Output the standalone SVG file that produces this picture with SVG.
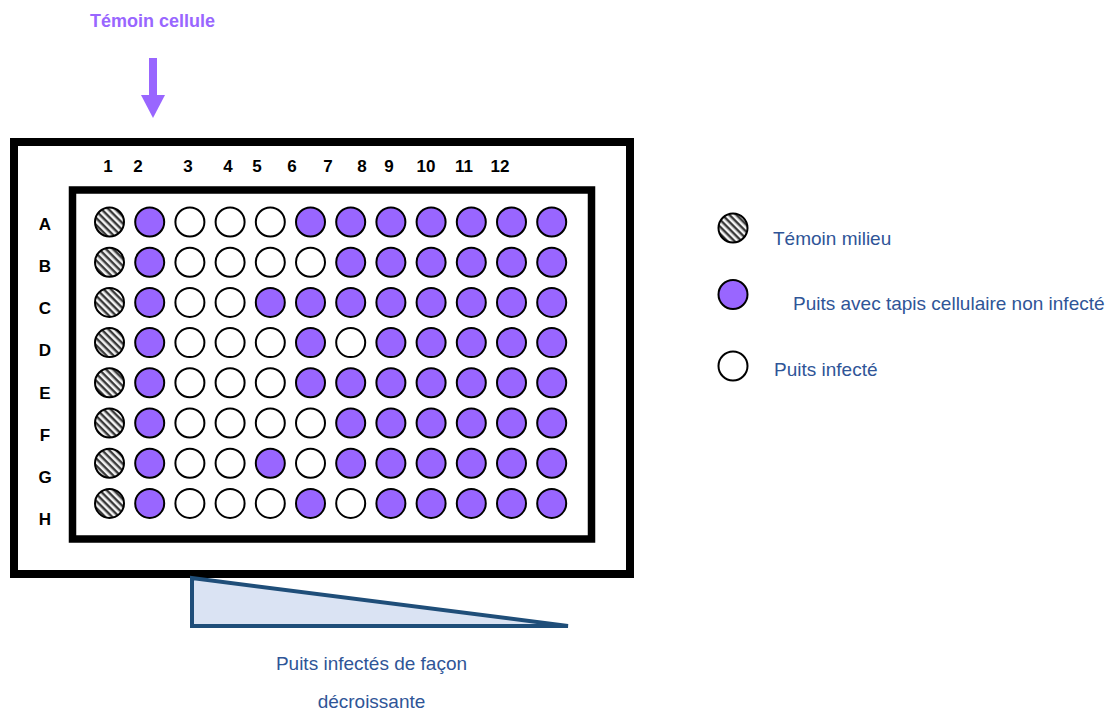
<svg xmlns="http://www.w3.org/2000/svg" width="1117" height="713" viewBox="0 0 1117 713">
<defs>
<pattern id="hatch" width="5" height="5" patternUnits="userSpaceOnUse" patternTransform="rotate(45)">
<rect width="5" height="5" fill="#f2f2f2"/>
<rect width="5" height="2.4" fill="#3a3a3a"/>
</pattern>
<style>
.w{stroke:#000;stroke-width:2}
.p{fill:#9966FF}
.e{fill:#fff}
.h{fill:url(#hatch)}
.lbl{font-family:"Liberation Sans",Arial,sans-serif;font-weight:bold;font-size:17px;fill:#000;text-anchor:middle}
.blue{font-family:"Liberation Sans",Arial,sans-serif;font-size:19px;fill:#2F5597}
.title{font-family:"Liberation Sans",Arial,sans-serif;font-weight:bold;font-size:18px;fill:#9966FF;text-anchor:middle}
</style>
</defs>
<rect width="1117" height="713" fill="#fff"/>

<g id="title"><text class="title" x="152.5" y="27">Témoin cellule</text></g>

<g id="connectors">
<rect x="149" y="58" width="8" height="38" fill="#9966FF"/>
<polygon points="141,95 165,95 153,118" fill="#9966FF"/>
</g>

<g id="plate">
<rect x="14" y="142" width="616" height="432" fill="#fff" stroke="#000" stroke-width="8"/>
<rect x="72.5" y="190" width="519" height="349" fill="#fff" stroke="#000" stroke-width="7.5"/>
</g>

<g id="col-labels">
<text class="lbl" x="108" y="172">1</text>
<text class="lbl" x="138" y="172">2</text>
<text class="lbl" x="188" y="172">3</text>
<text class="lbl" x="228" y="172">4</text>
<text class="lbl" x="257" y="172">5</text>
<text class="lbl" x="292" y="172">6</text>
<text class="lbl" x="328" y="172">7</text>
<text class="lbl" x="362" y="172">8</text>
<text class="lbl" x="389" y="172">9</text>
<text class="lbl" x="426" y="172">10</text>
<text class="lbl" x="464" y="172">11</text>
<text class="lbl" x="500" y="172">12</text>
</g>

<g id="row-labels">
<text class="lbl" x="45" y="230">A</text>
<text class="lbl" x="45" y="272">B</text>
<text class="lbl" x="45" y="314">C</text>
<text class="lbl" x="45" y="356">D</text>
<text class="lbl" x="45" y="399">E</text>
<text class="lbl" x="45" y="441">F</text>
<text class="lbl" x="45" y="483">G</text>
<text class="lbl" x="45" y="525">H</text>
</g>

<g id="wells">
<!-- Row A y=222 -->
<g id="row-A">
<circle class="w h" cx="109.5" cy="222" r="14.5"/><circle class="w p" cx="149.7" cy="222" r="14.5"/><circle class="w e" cx="189.9" cy="222" r="14.5"/><circle class="w e" cx="230.1" cy="222" r="14.5"/><circle class="w e" cx="270.3" cy="222" r="14.5"/><circle class="w p" cx="310.5" cy="222" r="14.5"/><circle class="w p" cx="350.7" cy="222" r="14.5"/><circle class="w p" cx="390.9" cy="222" r="14.5"/><circle class="w p" cx="431.1" cy="222" r="14.5"/><circle class="w p" cx="471.3" cy="222" r="14.5"/><circle class="w p" cx="511.5" cy="222" r="14.5"/><circle class="w p" cx="551.7" cy="222" r="14.5"/>
</g>
<g id="row-B">
<circle class="w h" cx="109.5" cy="262.2" r="14.5"/><circle class="w p" cx="149.7" cy="262.2" r="14.5"/><circle class="w e" cx="189.9" cy="262.2" r="14.5"/><circle class="w e" cx="230.1" cy="262.2" r="14.5"/><circle class="w e" cx="270.3" cy="262.2" r="14.5"/><circle class="w e" cx="310.5" cy="262.2" r="14.5"/><circle class="w p" cx="350.7" cy="262.2" r="14.5"/><circle class="w p" cx="390.9" cy="262.2" r="14.5"/><circle class="w p" cx="431.1" cy="262.2" r="14.5"/><circle class="w p" cx="471.3" cy="262.2" r="14.5"/><circle class="w p" cx="511.5" cy="262.2" r="14.5"/><circle class="w p" cx="551.7" cy="262.2" r="14.5"/>
</g>
<g id="row-C">
<circle class="w h" cx="109.5" cy="302.4" r="14.5"/><circle class="w p" cx="149.7" cy="302.4" r="14.5"/><circle class="w e" cx="189.9" cy="302.4" r="14.5"/><circle class="w e" cx="230.1" cy="302.4" r="14.5"/><circle class="w p" cx="270.3" cy="302.4" r="14.5"/><circle class="w p" cx="310.5" cy="302.4" r="14.5"/><circle class="w p" cx="350.7" cy="302.4" r="14.5"/><circle class="w p" cx="390.9" cy="302.4" r="14.5"/><circle class="w p" cx="431.1" cy="302.4" r="14.5"/><circle class="w p" cx="471.3" cy="302.4" r="14.5"/><circle class="w p" cx="511.5" cy="302.4" r="14.5"/><circle class="w p" cx="551.7" cy="302.4" r="14.5"/>
</g>
<g id="row-D">
<circle class="w h" cx="109.5" cy="342.6" r="14.5"/><circle class="w p" cx="149.7" cy="342.6" r="14.5"/><circle class="w e" cx="189.9" cy="342.6" r="14.5"/><circle class="w e" cx="230.1" cy="342.6" r="14.5"/><circle class="w e" cx="270.3" cy="342.6" r="14.5"/><circle class="w p" cx="310.5" cy="342.6" r="14.5"/><circle class="w e" cx="350.7" cy="342.6" r="14.5"/><circle class="w p" cx="390.9" cy="342.6" r="14.5"/><circle class="w p" cx="431.1" cy="342.6" r="14.5"/><circle class="w p" cx="471.3" cy="342.6" r="14.5"/><circle class="w p" cx="511.5" cy="342.6" r="14.5"/><circle class="w p" cx="551.7" cy="342.6" r="14.5"/>
</g>
<g id="row-E">
<circle class="w h" cx="109.5" cy="382.8" r="14.5"/><circle class="w p" cx="149.7" cy="382.8" r="14.5"/><circle class="w e" cx="189.9" cy="382.8" r="14.5"/><circle class="w e" cx="230.1" cy="382.8" r="14.5"/><circle class="w e" cx="270.3" cy="382.8" r="14.5"/><circle class="w p" cx="310.5" cy="382.8" r="14.5"/><circle class="w p" cx="350.7" cy="382.8" r="14.5"/><circle class="w p" cx="390.9" cy="382.8" r="14.5"/><circle class="w p" cx="431.1" cy="382.8" r="14.5"/><circle class="w p" cx="471.3" cy="382.8" r="14.5"/><circle class="w p" cx="511.5" cy="382.8" r="14.5"/><circle class="w p" cx="551.7" cy="382.8" r="14.5"/>
</g>
<g id="row-F">
<circle class="w h" cx="109.5" cy="423" r="14.5"/><circle class="w p" cx="149.7" cy="423" r="14.5"/><circle class="w e" cx="189.9" cy="423" r="14.5"/><circle class="w e" cx="230.1" cy="423" r="14.5"/><circle class="w e" cx="270.3" cy="423" r="14.5"/><circle class="w e" cx="310.5" cy="423" r="14.5"/><circle class="w p" cx="350.7" cy="423" r="14.5"/><circle class="w p" cx="390.9" cy="423" r="14.5"/><circle class="w p" cx="431.1" cy="423" r="14.5"/><circle class="w p" cx="471.3" cy="423" r="14.5"/><circle class="w p" cx="511.5" cy="423" r="14.5"/><circle class="w p" cx="551.7" cy="423" r="14.5"/>
</g>
<g id="row-G">
<circle class="w h" cx="109.5" cy="463.2" r="14.5"/><circle class="w p" cx="149.7" cy="463.2" r="14.5"/><circle class="w e" cx="189.9" cy="463.2" r="14.5"/><circle class="w e" cx="230.1" cy="463.2" r="14.5"/><circle class="w p" cx="270.3" cy="463.2" r="14.5"/><circle class="w e" cx="310.5" cy="463.2" r="14.5"/><circle class="w p" cx="350.7" cy="463.2" r="14.5"/><circle class="w p" cx="390.9" cy="463.2" r="14.5"/><circle class="w p" cx="431.1" cy="463.2" r="14.5"/><circle class="w p" cx="471.3" cy="463.2" r="14.5"/><circle class="w p" cx="511.5" cy="463.2" r="14.5"/><circle class="w p" cx="551.7" cy="463.2" r="14.5"/>
</g>
<g id="row-H">
<circle class="w h" cx="109.5" cy="503.4" r="14.5"/><circle class="w p" cx="149.7" cy="503.4" r="14.5"/><circle class="w e" cx="189.9" cy="503.4" r="14.5"/><circle class="w e" cx="230.1" cy="503.4" r="14.5"/><circle class="w e" cx="270.3" cy="503.4" r="14.5"/><circle class="w p" cx="310.5" cy="503.4" r="14.5"/><circle class="w e" cx="350.7" cy="503.4" r="14.5"/><circle class="w p" cx="390.9" cy="503.4" r="14.5"/><circle class="w p" cx="431.1" cy="503.4" r="14.5"/><circle class="w p" cx="471.3" cy="503.4" r="14.5"/><circle class="w p" cx="511.5" cy="503.4" r="14.5"/><circle class="w p" cx="551.7" cy="503.4" r="14.5"/>
</g>
</g>

<g id="legend">
<g id="legend-temoin"><circle class="w h" cx="733" cy="228" r="14.5"/><text class="blue" x="773" y="245">Témoin milieu</text></g>
<g id="legend-noninfecte"><circle class="w p" cx="733" cy="294.5" r="14.5"/><text class="blue" x="793" y="310">Puits avec tapis cellulaire non infecté</text></g>
<g id="legend-infecte"><circle class="w e" cx="733" cy="366" r="14.5"/><text class="blue" x="774" y="376">Puits infecté</text></g>
</g>

<g id="gradient-triangle">
<polygon points="192,578 192,626 568,626" fill="#DAE3F3" stroke="#1F4E79" stroke-width="4" stroke-linejoin="miter"/>
<text class="blue" x="371.5" y="670" text-anchor="middle">Puits infectés de façon</text>
<text class="blue" x="371.5" y="708" text-anchor="middle">décroissante</text>
</g>
</svg>
